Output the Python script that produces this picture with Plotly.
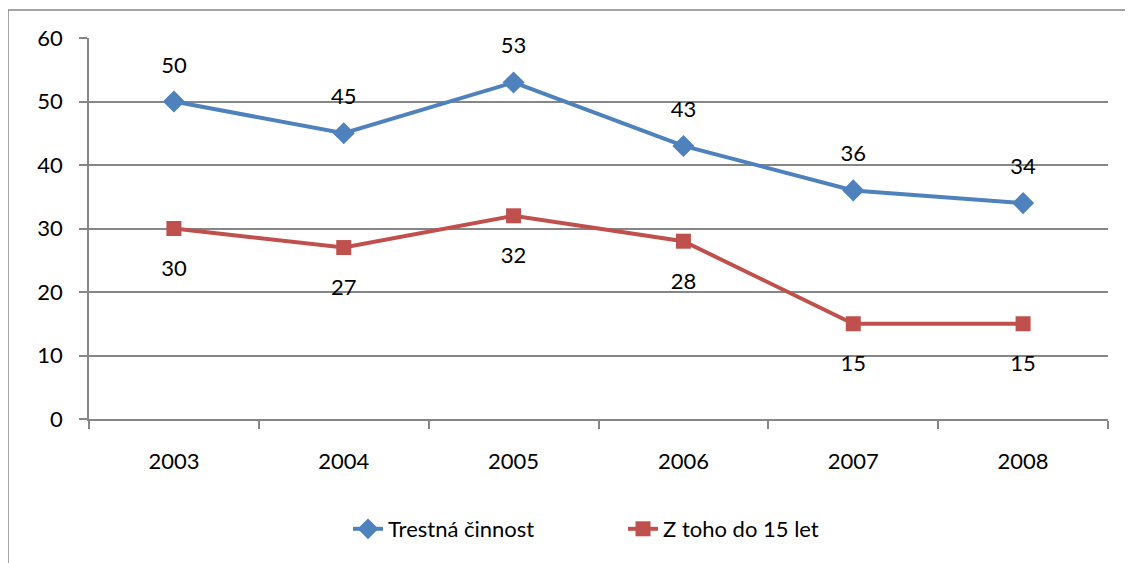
import plotly.graph_objects as go

years = ["2003", "2004", "2005", "2006", "2007", "2008"]
trestna = [50, 45, 53, 43, 36, 34]
do15 = [30, 27, 32, 28, 15, 15]
y_ticks = [0, 10, 20, 30, 40, 50, 60]

BLUE = "#4F81BD"
RED = "#C0504D"
GRID = "#868686"
FONT = "Lato"
FS = 22

fig = go.Figure()
fig.add_trace(go.Scatter(
    x=years, y=trestna, name="Trestná činnost", mode="lines+markers",
    line=dict(color=BLUE, width=4),
    marker=dict(symbol="diamond", size=17, color=BLUE),
))
fig.add_trace(go.Scatter(
    x=years, y=do15, name="Z toho do 15 let", mode="lines+markers",
    line=dict(color=RED, width=4),
    marker=dict(symbol="square", size=15, color=RED),
))
# data labels (invisible large markers push the text away from the points)
fig.add_trace(go.Scatter(
    x=years, y=trestna, mode="markers+text", text=[str(v) for v in trestna],
    textposition="top center", textfont=dict(size=FS, color="black", family=FONT),
    marker=dict(size=36, opacity=0), showlegend=False, hoverinfo="skip", cliponaxis=False,
))
fig.add_trace(go.Scatter(
    x=years, y=do15, mode="markers+text", text=[str(v) for v in do15],
    textposition="bottom center", textfont=dict(size=FS, color="black", family=FONT),
    marker=dict(size=48, opacity=0), showlegend=False, hoverinfo="skip", cliponaxis=False,
))

# page body has an 8px margin, so the figure origin is at (8, 8)
OFF = 8
W, H = 1133 - OFF, 563 - OFF
L, R, T, B = 89 - OFF, 25, 38 - OFF, 144
pw, ph = W - L - R, H - T - B
def px(xp):
    return (xp - OFF - L) / pw
def py(yp):
    return 1 - (yp - OFF - T) / ph

shapes = [
    dict(type="line", xref="paper", yref="paper", x0=px(8), x1=px(1140), y0=py(10), y1=py(10),
         line=dict(color=GRID, width=1.5)),
    dict(type="line", xref="paper", yref="paper", x0=px(8), x1=px(8), y0=py(10), y1=py(570),
         line=dict(color=GRID, width=1.5)),
]

fig.update_layout(
    width=W, height=H,
    margin=dict(l=L, r=R, t=T, b=B),
    paper_bgcolor="white", plot_bgcolor="white",
    font=dict(family=FONT, size=FS, color="black"),
    showlegend=True,
    legend=dict(orientation="h", x=px(348), xanchor="left", y=py(529), yanchor="middle",
                font=dict(size=FS, family=FONT), entrywidth=230, entrywidthmode="pixels"),
    shapes=shapes,
    xaxis=dict(type="category", range=[-0.5, 5.5], showgrid=False, showline=True,
               linecolor=GRID, linewidth=1.5, ticks="outside", tickson="boundaries",
               ticklen=8, tickcolor=GRID, tickwidth=1.5, ticklabelstandoff=22,
               zeroline=False),
    yaxis=dict(range=[0, 60], tickvals=y_ticks, showgrid=True, gridcolor=GRID, gridwidth=1.5,
               showline=True, linecolor=GRID, linewidth=1.5, ticks="outside", ticklen=8,
               tickcolor=GRID, tickwidth=1.5, ticklabelstandoff=12,
               zeroline=False),
)

fig.write_html("out.html")
